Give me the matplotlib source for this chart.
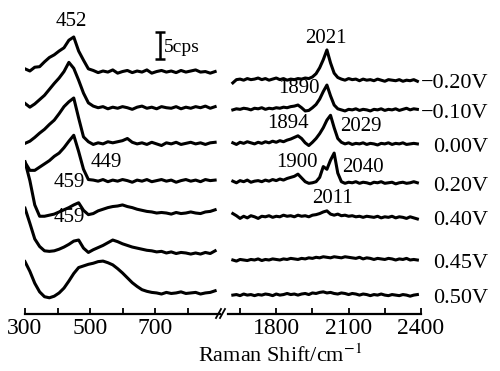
import numpy as np
import matplotlib.pyplot as plt
from matplotlib.lines import Line2D

plt.rcParams['font.family'] = ['Liberation Serif', 'DejaVu Serif']
plt.rcParams['mathtext.fontset'] = 'stix'

potentials = ['\u22120.20V', '\u22120.10V', '0.00V', '0.20V', '0.40V', '0.45V', '0.50V']

# wavenumber grids (cm-1) for the two parts of the broken axis
wn_low = np.arange(300, 886, 15)
wn_high = np.arange(1620, 2386, 15)

# intensities (cps, relative to each trace's baseline)
low_m020 = [0.6, 0.2, 0.9, 1.0, 1.9, 2.7, 3.2, 3.9, 4.5, 5.9,
            6.5, 3.9, 2.2, 0.6, 0.3, -0.1, 0.2, 0.0, 0.4, -0.2,
            0.1, 0.3, -0.1, 0.2, 0.0, 0.4, -0.2, 0.1, 0.3, 0.0,
            0.2, -0.1, 0.3, 0.0, 0.2, 0.4, 0.0, 0.1, -0.2, 0.1]
low_m010 = [0.9, 0.2, 0.8, 1.6, 2.4, 3.5, 4.6, 5.6, 6.8, 8.5,
            7.4, 5.2, 2.8, 1.0, 0.4, 0.1, 0.3, -0.1, 0.2, 0.0,
            0.3, 0.1, -0.2, 0.2, 0.4, 0.0, 0.2, -0.1, 0.3, 0.1,
            0.0, 0.3, -0.1, 0.2, 0.0, 0.3, 0.1, 0.4, 0.0, 0.3]
low_000 = [0.1, 0.5, 1.2, 2.0, 2.7, 3.6, 4.4, 5.6, 6.9, 7.8,
           8.5, 4.8, 1.3, 0.4, -0.1, 0.2, 0.0, 0.4, 0.2, 0.4,
           0.6, 1.0, 0.3, 0.0, 0.2, -0.1, 0.3, 0.0, -0.3, 0.2,
           0.0, 0.3, -0.1, 0.1, 0.3, 0.0, 0.2, -0.1, 0.2, 0.3]
low_020 = [3.5, 2.0, 2.0, 2.6, 3.2, 3.8, 4.6, 5.2, 6.2, 7.4,
           8.5, 5.5, 2.2, 0.3, 0.2, 0.0, 0.3, -0.1, 0.2, 0.0,
           0.3, 0.1, -0.2, 0.2, 0.0, 0.3, -0.1, 0.1, 0.3, 0.0,
           0.2, -0.2, 0.1, 0.3, 0.0, 0.2, -0.1, 0.3, 0.1, 0.2]
low_040 = [9.5, 6.0, 1.5, -0.6, -0.6, -0.4, -0.2, 0.2, 0.6, 1.0,
           1.5, 1.9, 0.5, -0.3, -0.1, 0.4, 0.7, 1.0, 1.2, 1.3,
           1.5, 1.2, 1.0, 0.7, 0.5, 0.3, 0.2, 0.0, 0.1, 0.0,
           -0.2, 0.1, -0.1, 0.0, 0.2, 0.0, -0.1, 0.2, 0.3, 0.6]
low_045 = [8.3, 5.5, 2.6, 1.2, 0.4, 0.3, 0.4, 0.7, 1.1, 1.6,
           2.2, 2.4, 0.9, 0.1, 0.6, 1.0, 1.4, 1.9, 2.4, 2.1,
           1.7, 1.4, 1.1, 0.9, 0.7, 0.5, 0.4, 0.2, 0.3, 0.0,
           0.2, -0.1, 0.1, 0.0, -0.2, 0.0, -0.2, 0.1, -0.1, 0.4]
low_050 = [5.8, 4.0, 1.8, 0.2, -0.7, -0.9, -0.6, 0.0, 0.9, 2.2,
           3.6, 4.7, 5.0, 5.3, 5.5, 5.8, 5.9, 5.6, 5.2, 4.5,
           3.7, 2.8, 1.9, 1.2, 0.6, 0.3, 0.1, 0.0, -0.2, 0.1,
           -0.1, 0.0, 0.2, -0.1, 0.0, 0.1, -0.2, 0.0, 0.1, 0.4]

high_m020 = [-0.5, 0.1, 0.2, 0.0, 0.3, 0.1, 0.2, 0.4, 0.1, 0.3, 0.0, 0.2, 0.4,
             0.1, 0.3, 0.0, 0.2, 0.1, 0.3, 0.2, 0.4, 0.3, 0.6, 1.2, 2.3, 3.8,
             5.6, 3.2, 1.3, 0.5, 0.2, 0.0, 0.3, 0.1, 0.2, -0.1, 0.2, 0.0, 0.1,
             -0.1, 0.2, 0.0, -0.2, 0.1, 0.0, -0.1, 0.1, -0.2, 0.0, -0.1, 0.1, -0.2]
high_m010 = [0.0, 0.2, 0.1, 0.3, 0.2, 0.0, 0.3, 0.2, 0.4, 0.1, 0.3, 0.2, 0.4,
             0.3, 0.5, 0.4, 0.6, 0.7, 0.9, 0.4, -0.2, -0.1, 0.4, 1.0, 2.0, 3.4,
             4.6, 2.6, 0.9, 0.2, 0.0, -0.2, 0.1, 0.0, 0.2, -0.1, 0.1, 0.0, -0.2,
             0.1, 0.0, 0.2, -0.1, 0.1, 0.0, 0.2, -0.1, 0.1, 0.3, 0.0, 0.2, 0.1]
high_000 = [0.2, -0.1, 0.3, 0.1, 0.4, 0.2, 0.0, 0.3, 0.1, 0.4, 0.2, 0.5, 0.3,
            0.6, 0.4, 0.7, 0.9, 1.2, 1.5, 1.0, 0.2, -0.3, 0.3, 1.0, 1.9, 3.0,
            4.4, 5.3, 3.0, 1.0, 0.3, 0.0, 0.2, -0.1, 0.1, 0.0, 0.2, -0.1, 0.1,
            0.0, -0.2, 0.1, 0.0, 0.2, -0.1, 0.1, 0.0, 0.2, -0.1, 0.0, 0.1, 0.0]
high_020 = [0.3, 0.0, 0.4, 0.2, 0.5, 0.1, 0.3, 0.4, 0.2, 0.5, 0.3, 0.6, 0.4,
            0.7, 0.5, 0.8, 1.0, 1.2, 1.6, 0.9, 0.2, -0.1, 0.0, 0.2, 1.0, 3.0,
            2.5, 4.2, 5.5, 1.8, 0.2, -0.1, 0.1, 0.0, 0.2, -0.1, 0.1, 0.0, -0.2,
            0.1, 0.0, 0.2, -0.1, 0.0, 0.1, -0.2, 0.0, 0.1, -0.1, 0.0, 0.2, 0.0]
high_040 = [0.6, 0.2, -0.3, 0.1, -0.2, 0.2, 0.0, -0.3, 0.1, 0.0, 0.2, -0.1, 0.1,
            0.0, 0.3, 0.1, 0.2, 0.0, 0.3, 0.1, 0.2, 0.0, 0.3, 0.4, 0.6, 0.9,
            1.1, 0.5, 0.3, 0.5, 0.2, 0.3, 0.1, 0.2, 0.0, 0.1, -0.1, 0.1, 0.0,
            -0.1, 0.1, -0.2, 0.0, -0.1, 0.1, -0.2, 0.0, -0.1, -0.3, 0.0, -0.2, -0.4]
high_045 = [0.0, -0.2, 0.1, 0.0, -0.1, 0.1, 0.0, 0.2, -0.1, 0.1, 0.0, 0.2, 0.1,
            0.0, 0.2, 0.1, 0.3, 0.2, 0.1, 0.3, 0.2, 0.4, 0.3, 0.5, 0.4, 0.6,
            0.5, 0.4, 0.6, 0.5, 0.4, 0.6, 0.5, 0.4, 0.3, 0.5, 0.2, 0.4, 0.3,
            0.1, 0.3, 0.2, 0.1, 0.3, 0.2, 0.0, 0.2, 0.1, 0.3, 0.0, 0.1, 0.0]
high_050 = [0.0, 0.1, -0.1, 0.2, 0.0, 0.1, -0.1, 0.1, 0.0, 0.2, 0.1, -0.1, 0.2,
            0.0, 0.1, 0.3, 0.1, 0.2, 0.0, 0.2, 0.3, 0.1, 0.4, 0.3, 0.5, 0.6,
            0.4, 0.5, 0.3, 0.2, 0.4, 0.3, 0.1, 0.3, 0.2, 0.0, 0.2, 0.1, -0.1,
            0.1, 0.0, 0.2, 0.0, -0.1, 0.1, 0.0, -0.1, 0.1, 0.0, -0.2, 0.0, 0.1]

low_traces = [low_m020, low_m010, low_000, low_020, low_040, low_045, low_050]
high_traces = [high_m020, high_m010, high_000, high_020, high_040, high_045, high_050]

# vertical stacking of the traces (cps)
low_offsets = [44.8, 38.1, 31.5, 24.6, 18.7, 11.3, 3.9]
high_offsets = [43.3, 37.8, 31.5, 24.3, 18.0, 10.0, 3.5]

# peak annotations: (wavenumber, height, text)
low_peaks = [(441, 54.1, '452'), (549, 28.0, '449'), (435, 24.3, '459'), (435, 17.8, '459')]
high_peaks = [(2006, 51.1, '2021'), (1894, 41.7, '1890'), (1849, 35.2, '1894'),
              (2151, 34.8, '2029'), (1886, 28.1, '1900'), (2160, 27.2, '2040'),
              (2035, 21.3, '2011')]

fig = plt.figure(figsize=(5, 3.71), dpi=100)
H = 371.0
ax_lo = fig.add_axes([25 / 500, 57 / H, 195 / 500, 314 / H])
ax_hi = fig.add_axes([228 / 500, 57 / H, 193 / 500, 314 / H])

for ax in (ax_lo, ax_hi):
    ax.set_ylim(0, 314 / 5.4)
    ax.patch.set_visible(False)
    for s in ('top', 'left', 'right'):
        ax.spines[s].set_visible(False)
    ax.spines['bottom'].set_linewidth(1.6)
    ax.set_yticks([])
    ax.tick_params(which='both', direction='in', length=4, width=1.3,
                   labelsize=17, pad=3)

for y, off in zip(low_traces, low_offsets):
    ax_lo.plot(wn_low, np.array(y) + off, color='black', lw=2.2)
for y, off in zip(high_traces, high_offsets):
    ax_hi.plot(wn_high, np.array(y) + off, color='black', lw=2.2)

ax_lo.set_xlim(300, 900)
ax_lo.set_xticks([300, 500, 700])
ax_lo.set_xticks([400, 600, 800], minor=True)
ax_hi.set_xlim(1600, 2400)
ax_hi.set_xticks([1800, 2100, 2400])
ax_hi.set_xticks([1650, 1950, 2250], minor=True)

for x, y, t in low_peaks:
    ax_lo.text(x, y, t, fontsize=15, ha='center', va='center')
for x, y, t in high_peaks:
    ax_hi.text(x, y, t, fontsize=15, ha='center', va='center')

for lab, off in zip(potentials, high_offsets):
    ax_hi.text(2678, off - 0.6, lab, fontsize=16, ha='right', va='center', clip_on=False)

# 5 cps scale bar
ax_lo.errorbar(715, 49.7, yerr=2.5, color='black', capsize=3.5, elinewidth=1.8, capthick=1.8)
ax_lo.text(728, 49.4, '5cps', fontsize=14, ha='left', va='center')

# axis break marks
for x0 in (216, 220):
    fig.add_artist(Line2D([x0 / 500, (x0 + 5) / 500], [1 - 318 / H, 1 - 309 / H],
                          color='black', lw=1.3))

fig.text(280 / 500, 1 - 356 / H, 'Raman Shift/cm$^{-1}$', fontsize=16, ha='center', va='center')

fig.savefig('out.png', dpi=100)
